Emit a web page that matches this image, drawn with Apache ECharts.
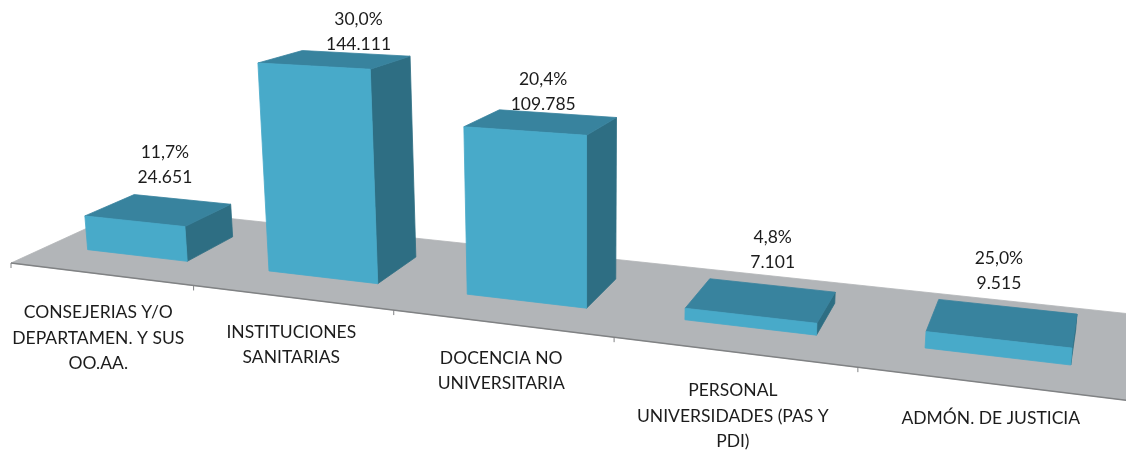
<!DOCTYPE html>
<html>
<head>
<meta charset="utf-8">
<script src="https://cdn.jsdelivr.net/npm/echarts@6/dist/echarts.min.js"></script>
<style>html,body{margin:0;padding:0;background:#fff}</style>
</head>
<body>
<div id="main" style="width:1126px;height:453px"></div>
<script type="text/javascript">
var categories = ['CONSEJERIAS Y/O\nDEPARTAMEN. Y SUS\nOO.AA.', 'INSTITUCIONES\nSANITARIAS', 'DOCENCIA NO\nUNIVERSITARIA', 'PERSONAL\nUNIVERSIDADES (PAS Y\nPDI)', 'ADMÓN. DE JUSTICIA'];
var values = [24651, 144111, 109785, 7101, 9515];
var valueText = ['24.651', '144.111', '109.785', '7.101', '9.515'];
var percentText = ['11,7%', '30,0%', '20,4%', '4,8%', '25,0%'];

// nudges for the text, the original chart placed them by hand
var catNudge = [[-2, 5], [0, 1], [0, 1], [0, 5], [1, 1]];
var valNudge = [[-17, -9], [3, 4], [-14, 3], [1, -11], [-8, -11]];

var font = 'Lato';
var colFront = '#48aac9', colTop = '#38839e', colSide = '#2e6e83';

// floor corners on screen: front left, front right, back right, back left
var q = [[11, 263], [1129, 400.5], [1133, 314.2], [131, 208]];
var dx1 = q[1][0] - q[2][0], dx2 = q[3][0] - q[2][0], sx = q[0][0] - q[1][0] + q[2][0] - q[3][0];
var dy1 = q[1][1] - q[2][1], dy2 = q[3][1] - q[2][1], sy = q[0][1] - q[1][1] + q[2][1] - q[3][1];
var den = dx1 * dy2 - dx2 * dy1;
var g = (sx * dy2 - dx2 * sy) / den, h = (dx1 * sy - sx * dy1) / den;
var a = q[1][0] - q[0][0] + g * q[1][0], b = q[3][0] - q[0][0] + h * q[3][0];
var d = q[1][1] - q[0][1] + g * q[1][1], e = q[3][1] - q[0][1] + h * q[3][1];

// u = position along the category axis (0..5), v = depth (0..1), px = height in pixels
function project(u, v, px) {
    var s = u / 5, w = g * s + h * v + 1;
    var x = (a * s + b * v + q[0][0]) / w;
    var y = (d * s + e * v + q[0][1]) / w;
    var up = (px || 0) * (1 + 0.0024 * (y - 280));
    return [x + (x - 588) / 6000 * up, y - up];
}

function bandPos(params, api, i) {
    return (api.coord([i, 0])[0] - params.coordSys.x) / api.size([1, 0])[0];
}

function poly(points, fill, z) {
    return {
        type: 'polygon',
        z2: z,
        shape: { points: points },
        style: { fill: fill, stroke: fill, lineWidth: 0.8 }
    };
}

function renderFloor(params, api) {
    var kids = [poly([project(0, 0), project(5, 0), project(5, 1), project(0, 1)], '#b2b5b8', 0)];
    kids.push({ type: 'line', z2: 1, shape: { x1: project(0, 0)[0], y1: project(0, 0)[1], x2: project(5, 0)[0], y2: project(5, 0)[1] }, style: { stroke: '#808284', lineWidth: 1.5 } });
    for (var t = 0; t <= 5; t++) {
        var p = project(t, 0);
        kids.push({ type: 'line', z2: 1, shape: { x1: p[0], y1: p[1], x2: p[0], y2: p[1] + 5 }, style: { stroke: '#808284', lineWidth: 1 } });
    }
    return { type: 'group', children: kids };
}

function renderBar(params, api) {
    var i = api.value(0);
    var u = bandPos(params, api, i);
    var half = 0.28, v0 = 0.30, v1 = 0.72;
    var px = api.size([0, api.value(1)])[1];
    var l = u - half, r = u + half;
    var kids = [
        poly([project(r, v0, 0), project(r, v1, 0), project(r, v1, px), project(r, v0, px)], colSide, 2),
        poly([project(l, v0, px), project(r, v0, px), project(r, v1, px), project(l, v1, px)], colTop, 3),
        poly([project(l, v0, 0), project(r, v0, 0), project(r, v0, px), project(l, v0, px)], colFront, 4)
    ];
    var c = project(u, v1, px);
    kids.push({
        type: 'text', z2: 5,
        style: {
            x: c[0] + valNudge[i][0], y: c[1] + valNudge[i][1],
            text: percentText[i] + '\n' + valueText[i],
            font: '17.5px ' + font, fill: '#1c1c1c', align: 'center', verticalAlign: 'bottom', lineHeight: 25
        }
    });
    var f = project(u, 0);
    kids.push({
        type: 'text', z2: 5,
        style: {
            x: f[0] + catNudge[i][0], y: f[1] + 21 + catNudge[i][1],
            text: categories[i],
            font: '17.5px ' + font, fill: '#1c1c1c', align: 'center', verticalAlign: 'top', lineHeight: 25.5
        }
    });
    return { type: 'group', children: kids };
}

var myChart = echarts.init(document.getElementById('main'));
var option = {
    backgroundColor: '#fff',
    animation: false,
    // the axes stay hidden, the floor carries the chart
    grid: { left: 0, top: 0, width: 500, height: 236 },
    xAxis: { type: 'category', data: categories, show: false, boundaryGap: true },
    yAxis: { type: 'value', min: 0, max: 160000, show: false },
    series: [
        { type: 'custom', name: 'floor', clip: false, silent: true, renderItem: renderFloor, data: [[0, 0]], z: 1 },
        {
            type: 'custom', name: 'bars', clip: false, renderItem: renderBar, z: 2,
            data: values.map(function (val, idx) { return [idx, val]; })
        }
    ]
};
myChart.setOption(option);
</script>
</body>
</html>
